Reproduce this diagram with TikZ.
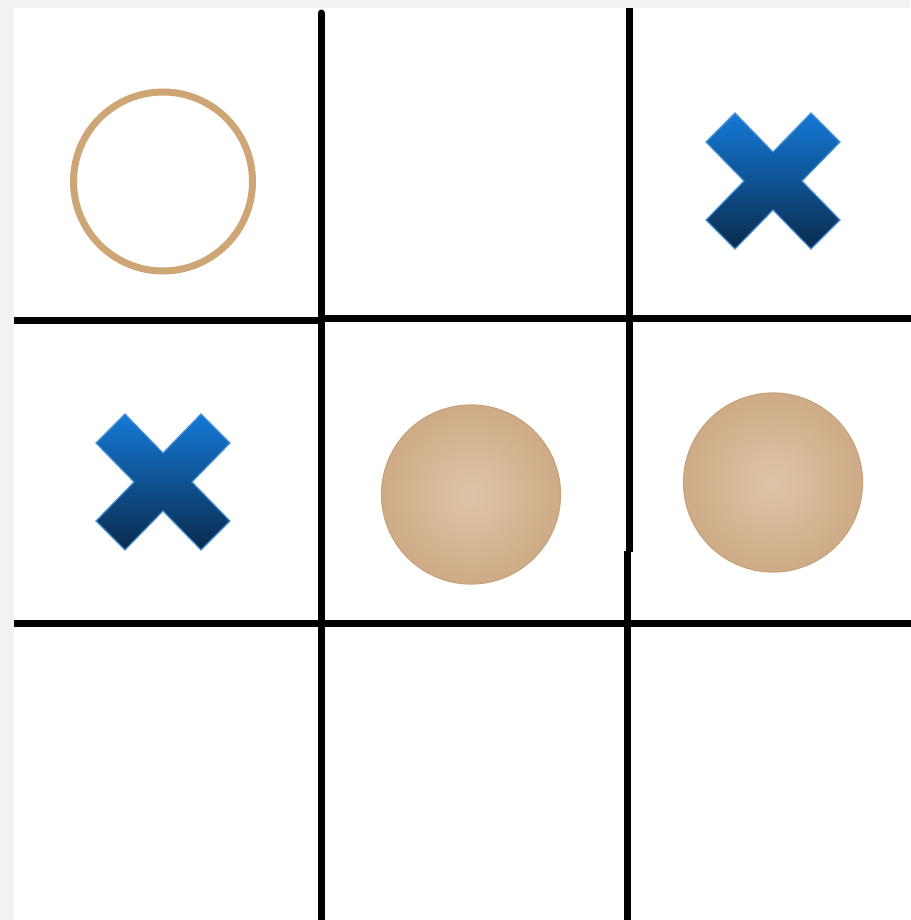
\documentclass[tikz,border=0pt]{standalone}
\usetikzlibrary{positioning}
\usepackage{xcolor}
\definecolor{boardgray}{HTML}{F2F2F2}
\definecolor{ringtan}{HTML}{CEA574}
\definecolor{discin}{HTML}{DEC5A7}
\definecolor{discout}{HTML}{BE9164}
\definecolor{crosstop}{HTML}{1479D6}
\definecolor{crossbot}{HTML}{0A2B4D}
\definecolor{crossedge}{HTML}{4A92D6}
\pgfdeclareradialshading{discshade}{\pgfpoint{0bp}{0bp}}{color(0bp)=(discin); color(50bp)=(discout)}
\newcommand{\crossat}[2]{%
  \path[crossmark, shift={(#1,#2)}] (0,-29) -- (38,-68) -- (67,-39) -- (29,0) -- (67,39) -- (38,68)
    -- (0,29) -- (-38,68) -- (-67,39) -- (-29,0) -- (-67,-39) -- (-38,-68) -- cycle;}

\begin{document}
\begin{tikzpicture}[x=1pt, y=-1pt,
    gridline/.style={line width=7pt, black},
    ring/.style={circle, draw=ringtan, line width=7pt, minimum size=179pt, inner sep=0pt},
    disc/.style={circle, shade, shading=discshade, draw=discout!85!white, line width=1.2pt, minimum size=179pt, inner sep=0pt},
    crossmark/.style={top color=crosstop, bottom color=crossbot, draw=crossedge, line width=1.2pt, line join=miter}]
    \useasboundingbox (0,0) rectangle (910,920);
    \fill[boardgray] (0,0) rectangle (910,920);
    \fill[white] (14,8) rectangle (910,920);
    % board lines
    \coordinate (v1top) at (321,13);
    \coordinate (v1bot) at (321,925);
    \coordinate (v2top) at (629,8);
    \coordinate (v2mid) at (629,552);
    \coordinate (v2joint) at (627,551);
    \coordinate (v2bot) at (627,925);
    \coordinate (h1left) at (14,320);
    \coordinate (h1mid) at (321,320);
    \coordinate (h1joint) at (321,318);
    \coordinate (h1right) at (915,318);
    \coordinate (h2left) at (14,623);
    \coordinate (h2right) at (915,623);
    \draw[gridline, line cap=round] (v1top) -- (v1bot);
    \draw[gridline] (v2top) -- (v2mid);
    \draw[gridline] (v2joint) -- (v2bot);
    \draw[gridline] (h1left) -- (h1mid);
    \draw[gridline] (h1joint) -- (h1right);
    \draw[gridline] (h2left) -- (h2right);
    % marks
    \node[ring] (otopleft) at (163,181.5) {};
    \node[disc] (ocenter) at (471,494.5) {};
    \node[disc] (oright) at (773,482.5) {};
    \crossat{773}{181}
    \crossat{163}{482}
\end{tikzpicture}
\end{document}
